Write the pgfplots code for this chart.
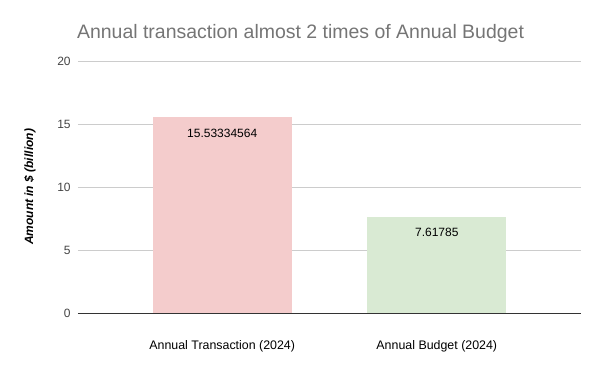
\documentclass[border=0pt]{standalone}
\usepackage{pgfplots}
\pgfplotsset{compat=1.18}
\usepackage{fontspec}
\setmainfont{Liberation Sans}
\definecolor{barA}{HTML}{F4CCCC}
\definecolor{barB}{HTML}{D9EAD3}
\definecolor{gridc}{HTML}{CCCCCC}
\definecolor{ticktext}{HTML}{444444}
\definecolor{titletext}{HTML}{757575}
\begin{document}
\begin{tikzpicture}
  \useasboundingbox (-58.5pt,-43.5pt) rectangle (391.5pt,234.75pt);
  \begin{axis}[
    at={(0,0)}, anchor=south west,
    scale only axis,
    width=377.25pt, height=189pt,
    ybar, bar width=104.25pt, bar shift=0pt,
    xmin=-0.672, xmax=1.672,
    ymin=0, ymax=20,
    ytick={0,5,10,15,20},
    xtick={0,1},
    xticklabels={Annual Transaction (2024), Annual Budget (2024)},
    axis line style={draw=none},
    major tick length=0pt,
    ymajorgrids=true,
    grid style={gridc, line width=0.75pt},
    tick label style={font=\fontsize{9}{11}\selectfont, text=ticktext},
    /pgf/number format/assume math mode=true,
    yticklabel style={xshift=-2pt},
    xticklabel style={yshift=-17pt, text=black, font=\fontsize{9.3}{11}\selectfont},
    ylabel={\textbf{\textit{Amount in \$ (billion)}}},
    ylabel style={font=\fontsize{9}{11}\selectfont, at={(axis description cs:-0.0954,0.5)}, anchor=center},
    point meta=explicit symbolic,
    nodes near coords,
    every node near coord/.append style={anchor=north, yshift=-5pt, font=\fontsize{9}{11}\selectfont, text=black},
  ]
    \addplot[fill=barA, draw=none] coordinates {(0,15.53334564) [15.53334564]};
    \addplot[fill=barB, draw=none] coordinates {(1,7.61785) [7.61785]};
    \draw[color=black!80, line width=0.75pt] (axis cs:-0.672,0) -- (axis cs:1.672,0);
  \end{axis}
  \node[text=titletext, font=\fontsize{14.6}{17}\selectfont] at (166.9pt,210pt) {Annual transaction almost 2 times of Annual Budget};
\end{tikzpicture}
\end{document}
